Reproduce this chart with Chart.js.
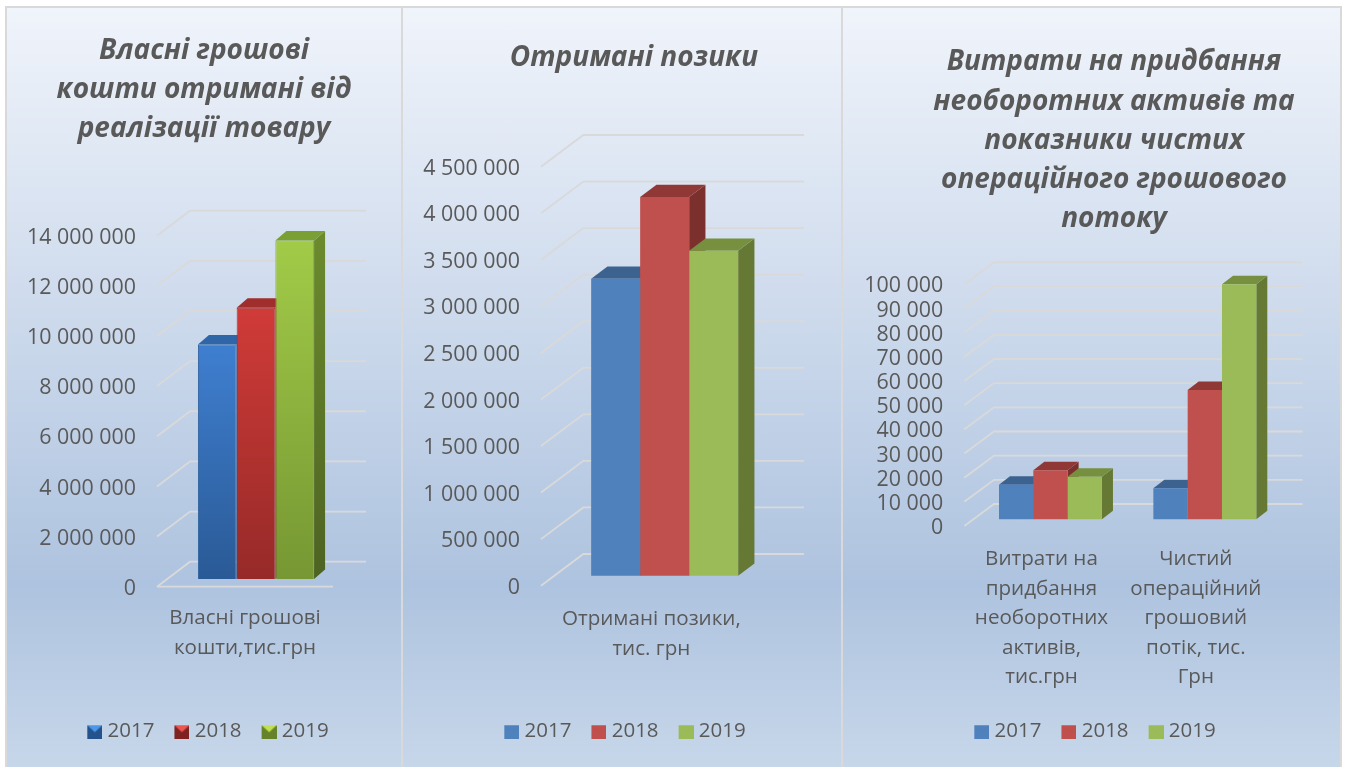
<!DOCTYPE html>
<html>
<head>
<meta charset="utf-8">
<script src="https://cdn.jsdelivr.net/npm/chart.js@4"></script>
<style>
  html, body { margin: 0; padding: 0; background: #fff; overflow: hidden; }
  body { width: 1346px; height: 767px; position: relative; }
  .panel {
    position: absolute; box-sizing: border-box;
    border: 2px solid #d9d9d9; border-bottom: 0;
    background: linear-gradient(180deg, #f0f4fb 0%, #aec3df 76%, #c7d7ea 100%);
  }
  canvas { position: absolute; }
</style>
</head>
<body>
<div class="panel" style="left:5px;top:6px;width:398px;height:761px"></div>
<div class="panel" style="left:401px;top:6px;width:442px;height:761px"></div>
<div class="panel" style="left:841px;top:6px;width:501px;height:761px"></div>
<canvas id="chart_vlasni"></canvas>
<canvas id="chart_pozyky"></canvas>
<canvas id="chart_vytraty"></canvas>
<script>
const roky = ['2017', '2018', '2019'];

const titulVlasni = ['Власні грошові', 'кошти отримані від', 'реалізації товару'];
const kategoriiVlasni = [['Власні грошові', 'кошти,тис.грн']];
const vlasni2017 = [9350000];
const vlasni2018 = [10820000];
const vlasni2019 = [13500000];

const titulPozyky = ['Отримані позики'];
const kategoriiPozyky = [['Отримані позики,', 'тис. грн']];
const pozyky2017 = [3190000];
const pozyky2018 = [4067000];
const pozyky2019 = [3490000];

const titulVytraty = ['Витрати на придбання', 'необоротних активів та', 'показники чистих', 'операційного грошового', 'потоку'];
const kategoriiVytraty = [
  ['Витрати на', 'придбання', 'необоротних', 'активів,', 'тис.грн'],
  ['Чистий', 'операційний', 'грошовий', 'потік, тис.', 'Грн']
];
const vytraty2017 = [14300, 12800];
const vytraty2018 = [20300, 53500];
const vytraty2019 = [17600, 97200];

const tekst = '#595959';
const shryft = '"Open Sans", "Noto Sans", sans-serif';
// tick text sits a little lower than the line it belongs to
const zsuvTekstu = 2;

// gradient colours for the first chart, flat for the other two
const kolirGlyantsevi = [
  { front: ['#3f7fd0', '#2a5a96'], side: ['#2f629f', '#234a78'], top: '#2f66a8', light: '#4c97ea', dark: '#24528c', edge: '#2f639f' },
  { front: ['#d03b38', '#962a28'], side: ['#9a2c2a', '#742020'], top: '#a02e2c', light: '#ee5550', dark: '#7e2322', edge: '#a63331' },
  { front: ['#a2cb48', '#769733'], side: ['#6b8a2d', '#4d6322'], top: '#7a9f33', light: '#c0e050', dark: '#66832b', edge: '#86a93c' }
];
const kolirPloski = [
  { front: '#4f81bd', side: '#3a5f8c', top: '#3c6290', light: '#4f81bd', dark: '#4f81bd' },
  { front: '#c0504d', side: '#7c302e', top: '#8f3836', light: '#c0504d', dark: '#c0504d' },
  { front: '#9bbb59', side: '#657834', top: '#76903f', light: '#9bbb59', dark: '#9bbb59' }
];

function zapovnennya(ctx, c, y0, y1) {
  if (typeof c === 'string') return c;
  if (!Number.isFinite(y0) || !Number.isFinite(y1)) return c[0];
  const g = ctx.createLinearGradient(0, y0, 0, y1);
  g.addColorStop(0, c[0]);
  g.addColorStop(1, c[1]);
  return g;
}

// little swatch for the legend, the empty left part pulls it closer to the text
function znachok(k) {
  const cv = document.createElement('canvas');
  cv.width = 20; cv.height = 16;
  const c = cv.getContext('2d');
  c.fillStyle = k.dark;
  c.fillRect(5, 2, 15, 14);
  c.fillStyle = k.light;
  c.beginPath();
  c.moveTo(5, 2); c.lineTo(20, 2); c.lineTo(12.5, 9); c.closePath();
  c.fill();
  return cv;
}

const obyemPlugin = {
  id: 'obyem',
  afterLayout(chart) {
    const g = chart.options.plugins.obyem;
    chart.titleBlock.left = g.titleX - 300;
    chart.titleBlock.right = g.titleX + 300;
    const lg = chart.legend;
    const pad = chart.options.plugins.legend.labels.padding;
    const w = lg.right - lg.left;
    lg.left = g.legendX - pad / 2 - w / 2;
    lg.right = lg.left + w;
    const h = lg.bottom - lg.top;
    lg.top = g.legendTop;
    lg.bottom = lg.top + h;
  },
  beforeDatasetsDraw(chart) {
    const g = chart.options.plugins.obyem;
    const { ctx, chartArea: a, scales: { y } } = chart;
    ctx.save();
    ctx.translate(0, -zsuvTekstu);
    ctx.strokeStyle = '#d9d9d9';
    ctx.lineWidth = 1.8;
    y.ticks.forEach(t => {
      const p = y.getPixelForValue(t.value);
      ctx.beginPath();
      ctx.moveTo(a.left, p);
      ctx.lineTo(a.left + g.dx, p - g.dy);
      ctx.lineTo(a.right + g.dx, p - g.dy);
      ctx.stroke();
    });
    if (g.floor) {
      const p = y.getPixelForValue(0);
      ctx.beginPath();
      ctx.moveTo(a.left, p);
      ctx.lineTo(a.right, p);
      ctx.stroke();
    }
    ctx.restore();

    // the bars stand in the middle of the floor
    ctx.save();
    ctx.translate(g.sx, -g.sy - zsuvTekstu);
    chart.data.datasets.forEach((ds, i) => {
      const k = g.kolory[i];
      chart.getDatasetMeta(i).data.forEach(b => {
        const l = b.x - b.width / 2, r = b.x + b.width / 2;
        ctx.fillStyle = zapovnennya(ctx, k.side, b.y, b.base);
        ctx.beginPath();
        ctx.moveTo(r, b.y);
        ctx.lineTo(r + g.bx, b.y - g.by);
        ctx.lineTo(r + g.bx, b.base - g.by);
        ctx.lineTo(r, b.base);
        ctx.closePath();
        ctx.fill();
        ctx.fillStyle = k.top;
        ctx.beginPath();
        ctx.moveTo(l, b.y);
        ctx.lineTo(l + g.bx, b.y - g.by);
        ctx.lineTo(r + g.bx, b.y - g.by);
        ctx.lineTo(r, b.y);
        ctx.closePath();
        ctx.fill();
      });
    });
  },
  afterDatasetsDraw(chart) {
    chart.ctx.restore();
  }
};

function grafik(id, d) {
  const cv = document.getElementById(id);
  cv.width = d.w; cv.height = d.h;
  cv.style.left = d.x + 'px';
  cv.style.top = d.y + 'px';
  const lh = 39.2;
  const ptop = d.titleY - d.y - lh / 2;
  const pbot = d.plotTop + zsuvTekstu - d.y - ptop - d.title.length * lh;
  const datasets = d.series.map((s, i) => ({
    label: roky[i],
    data: s,
    categoryPercentage: d.cat,
    barPercentage: 1,
    borderWidth: d.kolory[i].edge ? 1 : 0,
    borderColor: d.kolory[i].edge,
    backgroundColor: c => {
      const k = d.kolory[i].front;
      if (typeof k === 'string' || c.type !== 'data') return typeof k === 'string' ? k : k[0];
      const ys = c.chart.scales.y;
      return zapovnennya(c.chart.ctx, k, ys.getPixelForValue(c.raw), ys.getPixelForValue(0));
    }
  }));
  new Chart(cv, {
    type: 'bar',
    data: { labels: d.labels, datasets },
    plugins: [obyemPlugin],
    options: {
      responsive: false,
      animation: false,
      clip: false,
      layout: { padding: { left: 0, right: d.x + d.w - d.plotRight, top: 0, bottom: 5 } },
      plugins: {
        tooltip: { enabled: false },
        title: {
          display: true,
          text: d.title,
          color: tekst,
          font: { family: shryft, size: 28, weight: 'bold', style: 'italic', lineHeight: lh / 28 },
          padding: { top: ptop, bottom: pbot }
        },
        legend: {
          position: 'bottom',
          labels: {
            usePointStyle: true,
            pointStyleWidth: 10,
            boxHeight: 14,
            padding: 20,
            color: tekst,
            font: { family: shryft, size: 20.5 },
            generateLabels(chart) {
              const items = Chart.defaults.plugins.legend.labels.generateLabels(chart);
              items.forEach((it, i) => { it.pointStyle = znachok(d.kolory[i]); });
              return items;
            }
          }
        },
        obyem: {
          dx: d.dx, dy: d.dy, sx: d.sx, sy: d.sy, bx: d.bx, by: d.by,
          floor: d.floor, kolory: d.kolory,
          titleX: d.titleX - d.x, legendX: d.legendX - d.x, legendTop: 693
        }
      },
      scales: {
        x: {
          grid: { display: false },
          border: { display: false },
          afterFit: s => { s.height = 709.5 - d.plotBottom; },
          ticks: {
            color: tekst,
            padding: d.xPad,
            autoSkip: false,
            maxRotation: 0,
            minRotation: 0,
            font: { family: shryft, size: 20.6, lineHeight: 29.4 / 20.6 }
          }
        },
        y: {
          min: 0,
          max: d.yMax,
          grid: { display: false, drawTicks: false },
          border: { display: false },
          afterFit: s => { s.width = d.plotLeft - d.x; },
          ticks: {
            stepSize: d.yStep,
            autoSkip: false,
            color: tekst,
            padding: 21,
            font: { family: shryft, size: 21.4 },
            callback: v => String(v).replace(/\B(?=(\d{3})+$)/g, ' ')
          }
        }
      }
    }
  });
}

grafik('chart_vlasni', {
  x: 7, y: 8, w: 394, h: 759,
  title: titulVlasni, labels: kategoriiVlasni,
  series: [vlasni2017, vlasni2018, vlasni2019],
  yMax: 14000000, yStep: 2000000,
  plotLeft: 157, plotRight: 333, plotTop: 235.7, plotBottom: 586.7,
  dx: 33, dy: 25, sx: 11, sy: 7.7, bx: 11, by: 9.5, cat: 0.66,
  titleY: 51, titleX: 204, legendX: 218, xPad: 7, floor: true,
  kolory: kolirGlyantsevi
});

grafik('chart_pozyky', {
  x: 403, y: 8, w: 438, h: 759,
  title: titulPozyky, labels: kategoriiPozyky,
  series: [pozyky2017, pozyky2018, pozyky2019],
  yMax: 4500000, yStep: 500000,
  plotLeft: 541, plotRight: 761.7, plotTop: 166.7, plotBottom: 585.7,
  dx: 42.3, dy: 31.7, sx: 13.3, sy: 10, bx: 16.3, by: 12.3, cat: 0.666,
  titleY: 58.5, titleX: 634, legendX: 635, xPad: 9.1, floor: false,
  kolory: kolirPloski
});

grafik('chart_vytraty', {
  x: 843, y: 8, w: 497, h: 759,
  title: titulVytraty, labels: kategoriiVytraty,
  series: [vytraty2017, vytraty2018, vytraty2019],
  yMax: 100000, yStep: 10000,
  plotLeft: 964.3, plotRight: 1273, plotTop: 284.3, plotBottom: 526,
  dx: 29.7, dy: 22, sx: 9, sy: 6.7, bx: 11, by: 8.5, cat: 0.667,
  titleY: 62.5, titleX: 1114, legendX: 1105, xPad: 8.8, floor: false,
  kolory: kolirPloski
});
</script>
</body>
</html>
